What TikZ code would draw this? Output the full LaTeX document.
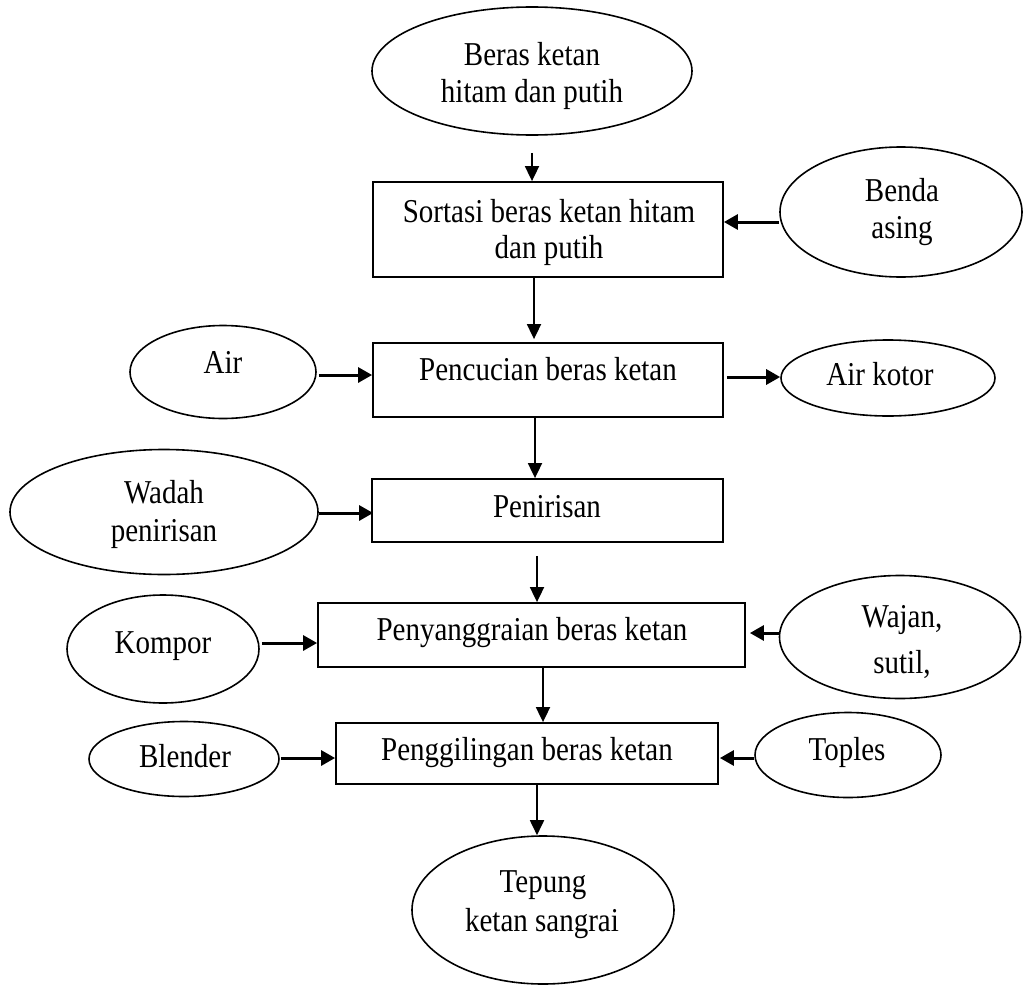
\documentclass[tikz,border=0pt]{standalone}
\usepackage{fontspec}
\setmainfont{Liberation Serif}
\usetikzlibrary{shapes.geometric,arrows.meta,calc}
% slightly tall lettering
\newcommand{\tall}[1]{\scalebox{1}[1.15]{#1}}

\begin{document}
\begin{tikzpicture}[x=1pt,y=-1pt,
  oval/.style={draw, ellipse, line width=1.6pt, inner sep=0pt},
  stepbox/.style={draw, rectangle, line width=1.8pt, inner sep=0pt},
  lbl/.style={anchor=base, inner sep=0pt, font=\fontsize{29}{34}\selectfont},
  flow/.style={line width=1.8pt, -{Triangle[length=15pt,width=14pt]}},
  side/.style={line width=3pt, -{Triangle[length=14pt,width=15pt]}}]
\useasboundingbox (0,0) rectangle (1023,985);

% shapes
\node[oval, minimum width=320pt, minimum height=128pt] (top) at (532,71) {};
\node[oval, minimum width=242pt, minimum height=130pt] (benda) at (901,212) {};
\node[stepbox, minimum width=350pt, minimum height=95pt] (sortasi) at (548,229.5) {};
\node[oval, minimum width=186pt, minimum height=93pt] (air) at (223,372) {};
\node[stepbox, minimum width=350pt, minimum height=74pt] (pencucian) at (548,380) {};
\node[oval, minimum width=214pt, minimum height=76pt] (airkotor) at (888,378) {};
\node[oval, minimum width=308pt, minimum height=125pt] (wadah) at (164,512) {};
\node[stepbox, minimum width=351pt, minimum height=63pt] (penirisan) at (547.5,510.5) {};
\node[oval, minimum width=192pt, minimum height=108pt] (kompor) at (163,649) {};
\node[stepbox, minimum width=427pt, minimum height=64pt] (penyang) at (531.5,635) {};
\node[oval, minimum width=241pt, minimum height=123pt] (wajan) at (900,637) {};
\node[oval, minimum width=190pt, minimum height=75pt] (blender) at (184,759) {};
\node[stepbox, minimum width=382pt, minimum height=61pt] (pengg) at (527,753.5) {};
\node[oval, minimum width=186pt, minimum height=85pt] (toples) at (848,755) {};
\node[oval, minimum width=262pt, minimum height=148pt] (tepung) at (543,910) {};

% labels
\node[lbl] (topA) at (532,65) {\tall{Beras ketan}};
\node[lbl] (topB) at (532,102) {\tall{hitam dan putih}};
\node[lbl] (bendaA) at (902,201) {\tall{Benda}};
\node[lbl] (bendaB) at (902,238) {\tall{asing}};
\node[lbl] (sortasiA) at (549,222) {\tall{Sortasi beras ketan hitam}};
\node[lbl] (sortasiB) at (549,258) {\tall{dan putih}};
\node[lbl] (airT) at (223,373) {\tall{Air}};
\node[lbl] (pencucianT) at (548,380) {\tall{Pencucian beras ketan}};
\node[lbl] (airkotorT) at (880,385) {\tall{Air kotor}};
\node[lbl] (wadahA) at (164,503) {\tall{Wadah}};
\node[lbl] (wadahB) at (164,541) {\tall{penirisan}};
\node[lbl] (penirisanT) at (547,517) {\tall{Penirisan}};
\node[lbl] (komporT) at (163,653) {\tall{Kompor}};
\node[lbl] (penyangT) at (532,640) {\tall{Penyanggraian beras ketan}};
\node[lbl] (wajanA) at (902,627) {\tall{Wajan,}};
\node[lbl] (wajanB) at (902,673) {\tall{sutil,}};
\node[lbl] (blenderT) at (185,767) {\tall{Blender}};
\node[lbl] (penggT) at (527,760) {\tall{Penggilingan beras ketan}};
\node[lbl] (toplesT) at (847,760) {\tall{Toples}};
\node[lbl] (tepungA) at (543,892) {\tall{Tepung}};
\node[lbl] (tepungB) at (542,931) {\tall{ketan sangrai}};

% main flow
\draw[flow] ($(top.south)+(0,17)$) -- (top.south |- sortasi.north);
\draw[flow] ($(sortasi.south)+(-14,0)$) -- ($(pencucian.north)+(-14,-3)$);
\draw[flow] ($(pencucian.south)+(-13,0)$) -- ($(penirisan.north)+(-12.5,0)$);
\draw[flow] ($(penirisan.south)+(-10.5,13)$) -- ($(penyang.north)+(5.5,0)$);
\draw[flow] ($(penyang.south)+(11.5,0)$) -- ($(pengg.north)+(16,0)$);
\draw[flow] ($(pengg.south)+(10,0)$) -- ($(tepung.north)+(-6,0)$);

% inputs and outputs
\draw[side] ($(benda.west)+(0,10)$) -- ($(sortasi.east)+(0,-7.5)$);
\draw[side] ($(air.east)+(2,3)$) -- ($(pencucian.west)+(0,-5)$);
\draw[side] ($(pencucian.east)+(3,-3)$) -- ($(airkotor.west)+(0,-1)$);
\draw[side] ($(wadah.east)+(0,1)$) -- ($(penirisan.west)+(2,2.5)$);
\draw[side] ($(kompor.east)+(2,-6)$) -- ($(penyang.west)+(0,8)$);
\draw[side] ($(wajan.west)+(0,-4)$) -- ($(penyang.east)+(4,-2)$);
\draw[side] ($(blender.east)+(1,-1)$) -- ($(pengg.west)+(0,4.5)$);
\draw[side] ($(toples.west)+(0,3)$) -- ($(pengg.east)+(1,4.5)$);
\end{tikzpicture}
\end{document}
